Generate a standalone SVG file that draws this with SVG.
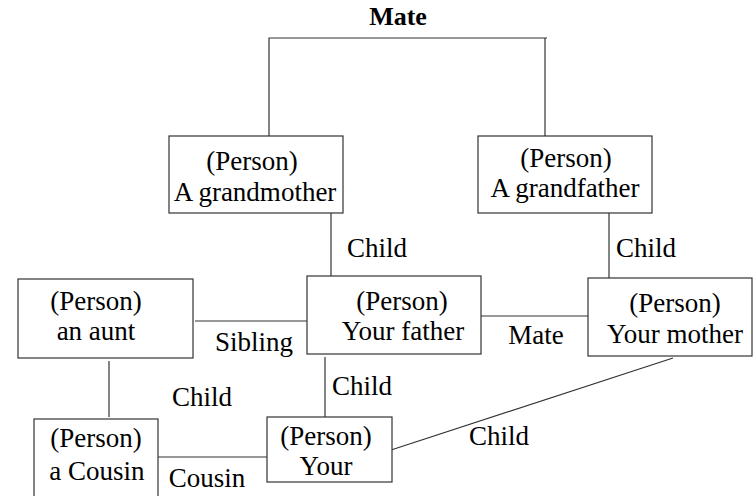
<svg xmlns="http://www.w3.org/2000/svg" width="753" height="496" viewBox="0 0 753 496">
<style>
.box{fill:#fff;stroke:#333;stroke-width:1.2}
.ln{fill:none;stroke:#333;stroke-width:1.2}
text{font-family:"Liberation Serif","Times New Roman",serif;font-size:27px;fill:#000;text-anchor:middle}
.b{font-weight:bold;font-size:26px}
</style>
<rect width="753" height="496" fill="#fff"/>
<g id="connectors">
<polyline class="ln" points="269,136 269,38 547,38"/>
<line class="ln" x1="545" y1="38" x2="545" y2="136"/>
<line class="ln" x1="331" y1="213" x2="331" y2="278"/>
<line class="ln" x1="609" y1="213" x2="609" y2="278"/>
<line class="ln" x1="481" y1="316" x2="593" y2="316"/>
<line class="ln" x1="195" y1="321" x2="307" y2="321"/>
<line class="ln" x1="109" y1="361" x2="109" y2="417"/>
<line class="ln" x1="325" y1="357" x2="325" y2="417"/>
<line class="ln" x1="158" y1="457" x2="269" y2="457"/>
<line class="ln" x1="673" y1="358" x2="388" y2="451"/>
<text class="b" x="398" y="25">Mate</text>
<text x="377" y="257">Child</text>
<text x="646" y="257">Child</text>
<text x="536" y="344">Mate</text>
<text x="254" y="351">Sibling</text>
<text x="202" y="406">Child</text>
<text x="362" y="395">Child</text>
<text x="499" y="445">Child</text>
<text x="207" y="487">Cousin</text>
</g>
<g id="grandmother">
<rect class="box" x="169" y="136" width="174" height="77"/>
<text x="252" y="170">(Person)</text>
<text x="255" y="201">A grandmother</text>
</g>
<g id="grandfather">
<rect class="box" x="478" y="136" width="174" height="77"/>
<text x="566" y="167">(Person)</text>
<text x="565" y="197">A grandfather</text>
</g>
<g id="aunt">
<rect class="box" x="18" y="279" width="175" height="79"/>
<text x="96" y="310">(Person)</text>
<text x="96" y="340">an aunt</text>
</g>
<g id="father">
<rect class="box" x="307" y="276" width="174" height="78"/>
<text x="402" y="310">(Person)</text>
<text x="403" y="340">Your father</text>
</g>
<g id="mother">
<rect class="box" x="588" y="278" width="164" height="78"/>
<text x="675" y="312">(Person)</text>
<text x="675" y="343">Your mother</text>
</g>
<g id="cousin">
<rect class="box" x="34" y="419" width="124" height="90"/>
<text x="96" y="447">(Person)</text>
<text x="97" y="480">a Cousin</text>
</g>
<g id="you">
<rect class="box" x="267" y="417" width="125" height="65"/>
<text x="326" y="445">(Person)</text>
<text x="326" y="475">Your</text>
</g>
</svg>
